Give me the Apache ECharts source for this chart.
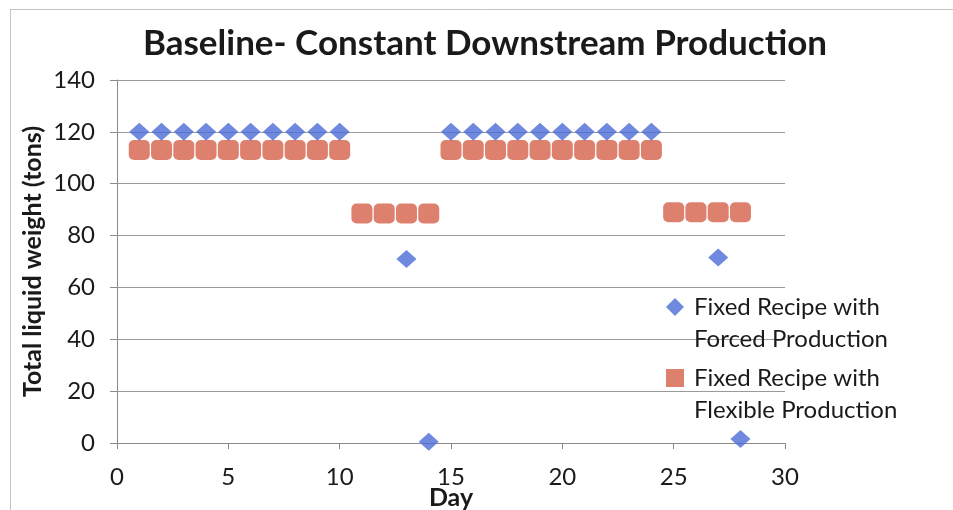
<!DOCTYPE html>
<html>
<head>
<meta charset="utf-8">
<script src="https://cdn.jsdelivr.net/npm/echarts@6/dist/echarts.min.js"></script>
<style>html,body{margin:0;padding:0;background:#fff}#c{width:953px;height:510px}</style>
</head>
<body>
<div id="c"></div>
<script>
const titleText = 'Baseline- Constant Downstream Production';
const xAxisName = 'Day';
const yAxisName = 'Total liquid weight (tons)';
const seriesNames = ['Fixed Recipe with Forced Production', 'Fixed Recipe with Flexible Production'];
const forcedDays = [1,2,3,4,5,6,7,8,9,10,13,14,15,16,17,18,19,20,21,22,23,24,27,28];
const forcedValues = [120,120,120,120,120,120,120,120,120,120,71,0.5,120,120,120,120,120,120,120,120,120,120,71.5,1.5];
const flexibleDays = [1,2,3,4,5,6,7,8,9,10,11,12,13,14,15,16,17,18,19,20,21,22,23,24,25,26,27,28];
const flexibleValues = [113,113,113,113,113,113,113,113,113,113,88.5,88.5,88.5,88.5,113,113,113,113,113,113,113,113,113,113,89,89,89,89];
const xTicks = {min: 0, max: 30, interval: 5};
const yTicks = {min: 0, max: 140, interval: 20};

const FONT = 'Lato, "Open Sans", sans-serif';
const chart = echarts.init(document.getElementById('c'), null, {renderer: 'canvas'});
const pair = (xs, ys) => xs.map((x, i) => [x, ys[i]]);
const wrap = n => {
  const parts = n.split(' ');
  return '\n' + parts.slice(0, 3).join(' ') + '\n' + parts.slice(3).join(' ');
};
chart.setOption({
  backgroundColor: '#fff',
  animation: false,
  title: {
    text: titleText, left: 480, top: 21, textAlign: 'center',
    textStyle: {fontFamily: FONT, fontSize: 35, fontWeight: 'bold', color: '#1a1a1a'}
  },
  graphic: [
    {type: 'line', shape: {x1: 10, y1: 9.5, x2: 953, y2: 9.5}, style: {stroke: '#c4c4c4', lineWidth: 1}},
    {type: 'line', shape: {x1: 10.5, y1: 9, x2: 10.5, y2: 510}, style: {stroke: '#c4c4c4', lineWidth: 1}}
  ],
  grid: {left: 117, right: 168, top: 80, bottom: 67, containLabel: false, outerBoundsMode: 'none'},
  legend: {
    orient: 'vertical', left: 666, top: 259, padding: 0, itemGap: -25,
    itemWidth: 18, itemHeight: 18,
    formatter: wrap,
    textStyle: {fontFamily: FONT, fontSize: 24, color: '#1a1a1a', lineHeight: 32, padding: [0, 0, 0, 5]},
    data: [{name: seriesNames[0], icon: 'diamond'}, {name: seriesNames[1], icon: 'rect'}]
  },
  xAxis: {
    type: 'value', min: xTicks.min, max: xTicks.max, interval: xTicks.interval,
    name: xAxisName, nameLocation: 'middle', nameGap: 42, nameMoveOverlap: false,
    nameTextStyle: {fontFamily: FONT, fontSize: 25, fontWeight: 'bold', color: '#1a1a1a'},
    axisLine: {show: true, lineStyle: {color: '#8a8a8a', width: 1}},
    axisTick: {show: true, length: 6, lineStyle: {color: '#8a8a8a'}},
    axisLabel: {fontFamily: FONT, fontSize: 24, color: '#1a1a1a', margin: 22},
    splitLine: {show: false}
  },
  yAxis: {
    type: 'value', min: yTicks.min, max: yTicks.max, interval: yTicks.interval,
    name: yAxisName, nameLocation: 'middle', nameGap: 72, nameRotate: 90, nameMoveOverlap: false,
    nameTextStyle: {fontFamily: FONT, fontSize: 25, fontWeight: 'bold', color: '#1a1a1a'},
    axisLine: {show: true, lineStyle: {color: '#8a8a8a', width: 1}},
    axisTick: {show: true, length: 7, lineStyle: {color: '#8a8a8a'}},
    axisLabel: {fontFamily: FONT, fontSize: 24, color: '#1a1a1a', margin: 22},
    splitLine: {show: true, lineStyle: {color: '#9a9a9a', width: 1}}
  },
  series: [
    {
      name: seriesNames[1], type: 'scatter', symbol: 'roundRect', symbolSize: [21, 20],
      itemStyle: {color: '#D6604A'}, data: pair(flexibleDays, flexibleValues), z: 2
    },
    {
      name: seriesNames[0], type: 'scatter', symbol: 'diamond', symbolSize: [20, 18],
      itemStyle: {color: '#4B6BD6'}, data: pair(forcedDays, forcedValues), z: 3
    }
  ]
});
</script>
</body>
</html>
